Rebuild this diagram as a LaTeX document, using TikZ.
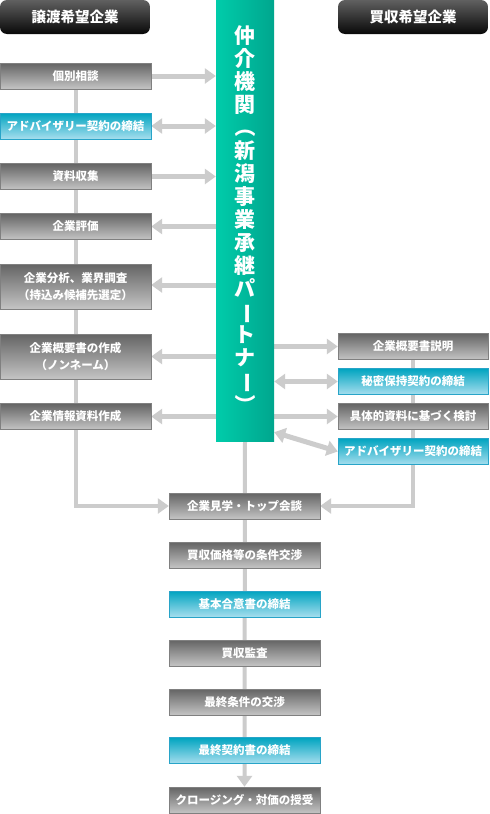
\documentclass[tikz,border=0pt]{standalone}
\usepackage{fontspec}
\setmainfont{Noto Sans CJK JP}
\usepackage{graphicx}
\usetikzlibrary{arrows.meta}
\pgfdeclarelayer{bg}
\pgfsetlayers{bg,main}
\definecolor{linegray}{RGB}{204,204,204}
\definecolor{boxtop}{RGB}{100,100,100}
\definecolor{boxbot}{RGB}{196,196,196}
\definecolor{boxline}{RGB}{128,128,128}
\definecolor{cyantop}{RGB}{0,164,192}
\definecolor{cyanbot}{RGB}{166,222,238}
\definecolor{cyanline}{RGB}{40,164,200}
\definecolor{headtop}{RGB}{96,96,96}
\definecolor{headbot}{RGB}{8,8,8}
\definecolor{greenl}{RGB}{0,204,170}
\definecolor{greenr}{RGB}{0,166,142}
\newcommand{\vrot}[1]{\rotatebox[origin=c]{-90}{#1}}
\begin{document}
\begin{tikzpicture}[x=1pt,y=-1pt,
  box/.style={rectangle,minimum width=151,minimum height=26,inner sep=0,text=white,
    align=center,font=\fontsize{11.5}{17}\selectfont\bfseries},
  graybox/.style={box,top color=boxtop,bottom color=boxbot,draw=boxline},
  bluebox/.style={box,top color=cyantop,bottom color=cyanbot,draw=cyanline},
  headbox/.style={rectangle,rounded corners=7,minimum width=150,minimum height=34,
    top color=headtop,bottom color=headbot,text=white,font=\fontsize{14.5}{16}\selectfont\bfseries},
  agent/.style={rectangle,minimum width=58,minimum height=441,inner sep=0,
    left color=greenl,right color=greenr,text=white,align=center,
    font=\fontsize{21}{23}\selectfont\bfseries},
  flow/.style={draw=linegray,line width=5pt,-{Triangle[length=11pt,width=15pt]}},
  both/.style={flow,{Triangle[length=11pt,width=15pt]}-{Triangle[length=11pt,width=15pt]}},
  trunk/.style={draw=linegray,line width=4pt}]
\useasboundingbox (0,0) rectangle (490,814);

% headers and agent
\node[headbox] (headL) at (75,17) {譲渡希望企業};
\node[headbox] (headR) at (413,17) {買収希望企業};
\node[agent] (chukai) at (245,220.5) {仲\\介\\機\\関\\\vrot{（}\\新\\潟\\事\\業\\承\\継\\パ\\\vrot{ー}\\ト\\ナ\\\vrot{ー}\\\vrot{）}};

% seller side
\node[graybox] (kobetsu) at (75.5,76) {個別相談};
\node[bluebox] (advL) at (75.5,126) {アドバイザリー契約の締結};
\node[graybox] (shiryo) at (75.5,176.5) {資料収集};
\node[graybox] (hyoka) at (75.5,226.5) {企業評価};
\node[graybox,minimum height=45] (bunseki) at (75.5,286.5) {企業分析、業界調査\\（持込み候補先選定）};
\node[graybox,minimum height=45] (gaiyoL) at (75.5,356.5) {企業概要書の作成\\（ノンネーム）};
\node[graybox] (joho) at (75.5,416.5) {企業情報資料作成};

% buyer side
\node[graybox,minimum width=150] (setsumei) at (413,346.5) {企業概要書説明};
\node[bluebox,minimum width=150] (himitsu) at (413,381.5) {秘密保持契約の締結};
\node[graybox,minimum width=150] (kento) at (413,416.5) {具体的資料に基づく検討};
\node[bluebox,minimum width=150] (advR) at (413,451.5) {アドバイザリー契約の締結};

% common steps
\node[graybox] (kengaku) at (244.5,506) {企業見学・トップ会談};
\node[graybox] (kakaku) at (244.5,555) {買収価格等の条件交渉};
\node[bluebox] (kihon) at (244.5,604) {基本合意書の締結};
\node[graybox] (kansa) at (244.5,653) {買収監査};
\node[graybox] (saishu) at (244.5,702) {最終条件の交渉};
\node[bluebox] (keiyaku) at (244.5,750.5) {最終契約書の締結};
\node[graybox] (closing) at (244.5,800) {クロージング・対価の授受};

\coordinate (diag) at ([yshift=9pt]chukai.south east);

\begin{pgfonlayer}{bg}
  \fill[white] (0,0) rectangle (490,814);
  \draw[trunk,-{Triangle[length=11pt,width=15pt]}] (kobetsu.south) |- (kengaku.west);
  \draw[trunk,-{Triangle[length=11pt,width=15pt]}] (setsumei.south) |- (kengaku.east);
  \draw[trunk,-{Triangle[length=11pt,width=15pt]}] (chukai.south) -- (closing.north);
  \draw[flow] (kobetsu.east) -- (kobetsu.east -| chukai.west);
  \draw[both] (advL.east) -- (advL.east -| chukai.west);
  \draw[flow] (shiryo.east) -- (shiryo.east -| chukai.west);
  \draw[flow] (hyoka.east -| chukai.west) -- (hyoka.east);
  \draw[flow] ([yshift=1.5pt]bunseki.east -| chukai.west) -- ([yshift=1.5pt]bunseki.east);
  \draw[flow] (gaiyoL.east -| chukai.west) -- (gaiyoL.east);
  \draw[flow] (joho.east -| chukai.west) -- (joho.east);
  \draw[flow] (setsumei.west -| chukai.east) -- (setsumei.west);
  \draw[both] (himitsu.west -| chukai.east) -- (himitsu.west);
  \draw[flow] (kento.west -| chukai.east) -- (kento.west);
  \draw[both] (diag) -- (advR.west);
\end{pgfonlayer}
\end{tikzpicture}
\end{document}
